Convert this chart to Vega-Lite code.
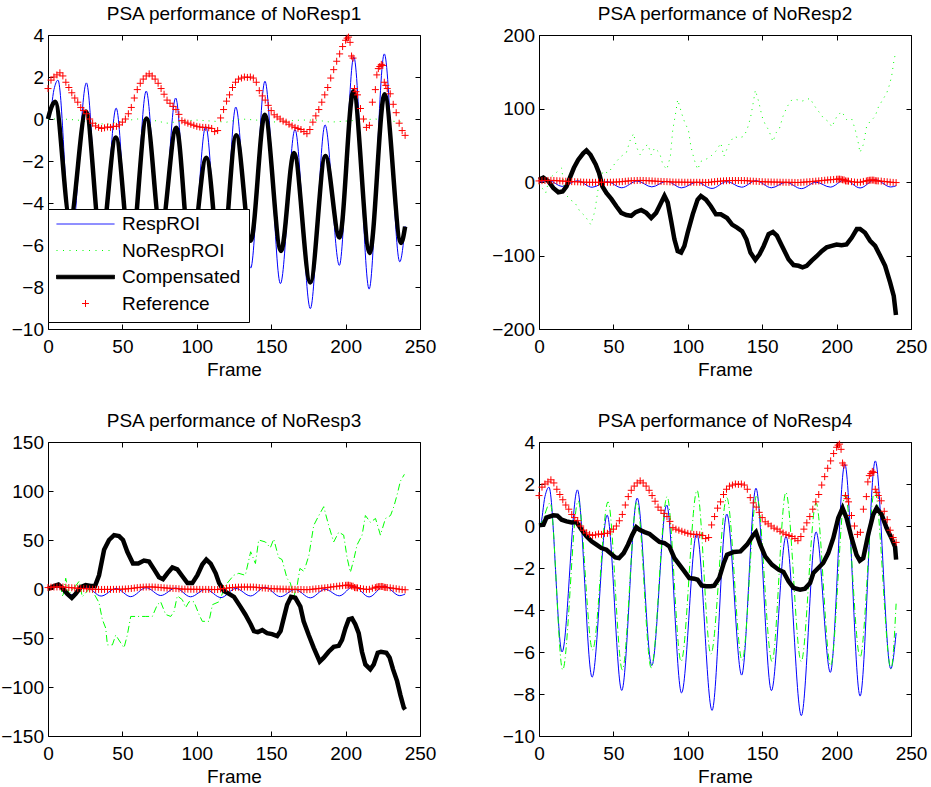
{
  "$schema": "https://vega.github.io/schema/vega-lite/v6.json",
  "padding": {"left": 0, "top": 4, "right": 5, "bottom": 5},
  "config": {
    "font": "Liberation Sans",
    "view": {"stroke": "#000000", "strokeWidth": 1},
    "axis": {
      "domain": false, "grid": false, "ticks": true, "tickSize": -5, "tickColor": "#000000", "tickWidth": 1,
      "labelFont": "Liberation Sans", "labelFontSize": 19, "labelColor": "#000000", "labelFlush": false, "labelOverlap": false,
      "titleFont": "Liberation Sans", "titleFontSize": 19, "titleFontWeight": "normal", "titleColor": "#000000"
    },
    "axisX": {"labelPadding": 13.5, "titlePadding": 3.5},
    "axisY": {"labelPadding": 9.5},
    "title": {"font": "Liberation Sans", "fontSize": 19, "fontWeight": "normal", "color": "#000000", "anchor": "middle", "offset": 2}
  },
  "datasets": {
    "resp": [
      {"f":0,"v":0},{"f":1,"v":0.05},{"f":4,"v":1.4},{"f":6.7,"v":1.85},{"f":15.5,"v":-6.0},{"f":25.8,"v":1.72},{"f":35.7,"v":-7.2},{"f":45.8,"v":0.52},{"f":55.6,"v":-7.83},{"f":66,"v":1.33},{"f":75.8,"v":-6.65},{"f":85.8,"v":1.0},{"f":95.8,"v":-7.95},{"f":106,"v":-0.35},{"f":116.3,"v":-8.78},{"f":126.2,"v":0.57},{"f":136.2,"v":-7.1},{"f":145.8,"v":1.8},{"f":156.2,"v":-7.84},{"f":166,"v":-0.5},{"f":176.3,"v":-9.03},{"f":186.2,"v":-0.28},{"f":195.8,"v":-6.97},{"f":205.5,"v":2.95},{"f":215.8,"v":-8.1},{"f":226,"v":3.1},{"f":236.4,"v":-6.8},{"f":240,"v":-5.1}
    ],
    "ref": [
      {"f":0,"v":1.45},{"f":2,"v":1.85},{"f":4,"v":2.0},{"f":6,"v":2.1},{"f":8,"v":2.2},{"f":10,"v":2.05},{"f":12,"v":1.75},{"f":14,"v":1.5},{"f":16,"v":1.25},{"f":18,"v":1.0},{"f":20,"v":0.8},{"f":22,"v":0.55},{"f":24,"v":0.4},{"f":26,"v":0.25},{"f":28,"v":0.0},{"f":30,"v":-0.2},{"f":32,"v":-0.33},{"f":34,"v":-0.4},{"f":36,"v":-0.45},{"f":38,"v":-0.42},{"f":40,"v":-0.38},{"f":42,"v":-0.4},{"f":44,"v":-0.35},{"f":46,"v":-0.35},{"f":48,"v":-0.28},{"f":50,"v":-0.15},{"f":52,"v":0.0},{"f":54,"v":0.25},{"f":56,"v":0.55},{"f":58,"v":1.0},{"f":60,"v":1.4},{"f":62,"v":1.7},{"f":64,"v":1.9},{"f":66,"v":2.05},{"f":68,"v":2.15},{"f":70,"v":2.05},{"f":72,"v":1.9},{"f":74,"v":1.7},{"f":76,"v":1.45},{"f":78,"v":1.18},{"f":80,"v":0.9},{"f":82,"v":0.75},{"f":84,"v":0.6},{"f":86,"v":0.45},{"f":88,"v":0.22},{"f":90,"v":-0.08},{"f":92,"v":-0.15},{"f":94,"v":-0.2},{"f":96,"v":-0.25},{"f":98,"v":-0.3},{"f":100,"v":-0.35},{"f":102,"v":-0.38},{"f":104,"v":-0.4},{"f":106,"v":-0.4},{"f":108,"v":-0.42},{"f":110,"v":-0.45},{"f":112,"v":-0.6},{"f":114,"v":-0.55},{"f":116,"v":0.05},{"f":118,"v":0.45},{"f":120,"v":0.85},{"f":122,"v":1.15},{"f":124,"v":1.5},{"f":126,"v":1.75},{"f":128,"v":1.9},{"f":130,"v":1.95},{"f":132,"v":2.0},{"f":134,"v":1.98},{"f":136,"v":2.0},{"f":138,"v":1.95},{"f":140,"v":1.75},{"f":142,"v":1.35},{"f":144,"v":1.1},{"f":146,"v":0.9},{"f":148,"v":0.65},{"f":150,"v":0.4},{"f":152,"v":0.2},{"f":154,"v":0.1},{"f":156,"v":0.0},{"f":158,"v":-0.1},{"f":160,"v":-0.15},{"f":162,"v":-0.25},{"f":164,"v":-0.33},{"f":166,"v":-0.4},{"f":168,"v":-0.45},{"f":170,"v":-0.5},{"f":172,"v":-0.6},{"f":174,"v":-0.7},{"f":176,"v":-0.5},{"f":178,"v":-0.15},{"f":180,"v":0.15},{"f":182,"v":0.45},{"f":184,"v":0.8},{"f":186,"v":1.15},{"f":188,"v":1.5},{"f":190,"v":1.95},{"f":192,"v":2.35},{"f":194,"v":2.75},{"f":196,"v":3.1},{"f":198,"v":3.45},{"f":200,"v":3.75},{"f":201,"v":3.85},{"f":202,"v":3.9},{"f":203,"v":3.65},{"f":204,"v":3.0},{"f":205,"v":2.9},{"f":206,"v":1.45},{"f":207,"v":1.3},{"f":208,"v":1.15},{"f":210,"v":0.5},{"f":212,"v":0.0},{"f":214,"v":-0.4},{"f":216,"v":-0.3},{"f":218,"v":0.8},{"f":220,"v":1.4},{"f":221,"v":2.1},{"f":222,"v":2.4},{"f":223,"v":2.5},{"f":224,"v":2.6},{"f":225,"v":2.55},{"f":226,"v":1.75},{"f":227,"v":1.6},{"f":228,"v":1.45},{"f":230,"v":1.2},{"f":232,"v":0.7},{"f":234,"v":0.3},{"f":236,"v":-0.2},{"f":238,"v":-0.55},{"f":240,"v":-0.78}
    ],
    "n1": [
      {"f":0,"v":0.0},{"f":10,"v":0.0},{"f":20,"v":-0.05},{"f":30,"v":-0.2},{"f":40,"v":-0.25},{"f":50,"v":-0.1},{"f":60,"v":0.0},{"f":70,"v":-0.05},{"f":80,"v":-0.2},{"f":90,"v":-0.1},{"f":100,"v":-0.05},{"f":110,"v":-0.1},{"f":120,"v":-0.15},{"f":130,"v":0.0},{"f":140,"v":-0.05},{"f":150,"v":-0.15},{"f":160,"v":-0.1},{"f":170,"v":-0.05},{"f":180,"v":-0.05},{"f":190,"v":-0.15},{"f":200,"v":-0.1},{"f":210,"v":-0.05},{"f":220,"v":0.0},{"f":230,"v":-0.1},{"f":240,"v":-0.15}
    ],
    "c1": [
      {"f":0,"v":0.0},{"f":1.5,"v":0.4},{"f":4.8,"v":0.82},{"f":14.8,"v":-4.8},{"f":25.5,"v":0.36},{"f":35.7,"v":-5.9},{"f":45.6,"v":-0.88},{"f":55.6,"v":-6.5},{"f":66.2,"v":0.02},{"f":75.8,"v":-5.4},{"f":86.2,"v":-0.42},{"f":95.8,"v":-6.6},{"f":106.4,"v":-1.84},{"f":116.3,"v":-7.3},{"f":126.5,"v":-0.77},{"f":136.2,"v":-5.8},{"f":145.7,"v":0.2},{"f":156.6,"v":-6.28},{"f":165.3,"v":-1.62},{"f":176.3,"v":-7.78},{"f":186.4,"v":-1.76},{"f":195.9,"v":-5.64},{"f":205.2,"v":1.32},{"f":216.2,"v":-6.38},{"f":226.2,"v":1.18},{"f":237.3,"v":-5.9},{"f":240,"v":-5.12}
    ],
    "n2": [
      {"f":0,"v":-2},{"f":4.5,"v":-15},{"f":7,"v":5},{"f":10,"v":10},{"f":15.2,"v":19},{"f":17.4,"v":-15},{"f":20.8,"v":-24},{"f":24.1,"v":-28},{"f":27.5,"v":-40},{"f":30.8,"v":-46},{"f":34.8,"v":-58},{"f":37.5,"v":-40},{"f":39.7,"v":-10},{"f":43.1,"v":15},{"f":46.4,"v":12},{"f":52,"v":28},{"f":55.3,"v":35},{"f":58.7,"v":40},{"f":61.3,"v":57},{"f":63.6,"v":66},{"f":65.4,"v":48},{"f":68,"v":37},{"f":71,"v":48},{"f":73.2,"v":51},{"f":75.4,"v":37},{"f":77.6,"v":46},{"f":81,"v":40},{"f":83.2,"v":24},{"f":85.9,"v":17},{"f":88.3,"v":35},{"f":89.9,"v":71},{"f":91.7,"v":92},{"f":93.2,"v":112},{"f":96.1,"v":92},{"f":98.1,"v":80},{"f":100.4,"v":71},{"f":102.1,"v":48},{"f":104.4,"v":30},{"f":106.6,"v":17},{"f":108.8,"v":28},{"f":114.4,"v":33},{"f":118.9,"v":42},{"f":122.2,"v":53},{"f":124.2,"v":35},{"f":127.6,"v":51},{"f":130.9,"v":62},{"f":134.2,"v":60},{"f":137.6,"v":62},{"f":139.8,"v":71},{"f":142.1,"v":87},{"f":143.9,"v":107},{"f":145.4,"v":125},{"f":147.7,"v":109},{"f":149.9,"v":89},{"f":152.1,"v":78},{"f":154.3,"v":71},{"f":157.2,"v":55},{"f":159.4,"v":67},{"f":161.6,"v":73},{"f":163.9,"v":89},{"f":166.6,"v":102},{"f":170,"v":112},{"f":173.3,"v":112},{"f":176.6,"v":110},{"f":180,"v":112},{"f":182.2,"v":114},{"f":184.6,"v":105},{"f":187.9,"v":96},{"f":191.2,"v":87},{"f":194.6,"v":82},{"f":196.8,"v":75},{"f":200.1,"v":89},{"f":203.4,"v":96},{"f":206.7,"v":85},{"f":210.1,"v":86},{"f":212.3,"v":73},{"f":214.6,"v":53},{"f":215.7,"v":40},{"f":218,"v":51},{"f":220.2,"v":76},{"f":222.4,"v":82},{"f":225.8,"v":89},{"f":228.1,"v":102},{"f":231,"v":112},{"f":233.7,"v":121},{"f":235.5,"v":132},{"f":237,"v":144},{"f":238.6,"v":166},{"f":239.8,"v":177}
    ],
    "c2": [
      {"f":0,"v":3},{"f":2.9,"v":6},{"f":6.3,"v":1},{"f":9.6,"v":-8},{"f":13,"v":-14},{"f":15.9,"v":-13},{"f":18.5,"v":-6},{"f":20.8,"v":6},{"f":23.4,"v":19},{"f":26.3,"v":30},{"f":29.7,"v":39},{"f":31.9,"v":43},{"f":34.6,"v":37},{"f":38.1,"v":24},{"f":40.4,"v":12},{"f":42.6,"v":-6},{"f":45.3,"v":-15},{"f":48.6,"v":-23},{"f":52,"v":-33},{"f":55.3,"v":-42},{"f":58.7,"v":-45},{"f":62,"v":-46},{"f":65,"v":-41},{"f":68.7,"v":-38},{"f":72.1,"v":-42},{"f":75.4,"v":-49},{"f":78.7,"v":-42},{"f":81.4,"v":-31},{"f":84.3,"v":-19},{"f":86.5,"v":-28},{"f":88.8,"v":-53},{"f":91,"v":-78},{"f":93.2,"v":-94},{"f":95.5,"v":-96},{"f":97.7,"v":-87},{"f":99.9,"v":-69},{"f":103.3,"v":-44},{"f":106.6,"v":-24},{"f":108.8,"v":-19},{"f":112.2,"v":-24},{"f":115.5,"v":-33},{"f":118.9,"v":-44},{"f":122.2,"v":-44},{"f":126.4,"v":-49},{"f":129.8,"v":-58},{"f":133.1,"v":-62},{"f":136.5,"v":-67},{"f":139.4,"v":-78},{"f":142.1,"v":-96},{"f":145.4,"v":-106},{"f":148.3,"v":-98},{"f":151,"v":-87},{"f":154.3,"v":-71},{"f":157.2,"v":-68},{"f":159.9,"v":-73},{"f":163.3,"v":-87},{"f":167.7,"v":-105},{"f":171.1,"v":-113},{"f":174.4,"v":-114},{"f":177.1,"v":-116},{"f":179.9,"v":-114},{"f":183.3,"v":-107},{"f":186.6,"v":-101},{"f":190,"v":-94},{"f":193.3,"v":-89},{"f":196.7,"v":-87},{"f":200,"v":-85},{"f":203.3,"v":-86},{"f":206.7,"v":-85},{"f":210.1,"v":-76},{"f":213.6,"v":-64},{"f":215.8,"v":-64},{"f":219.1,"v":-69},{"f":222.5,"v":-80},{"f":225.9,"v":-87},{"f":229.2,"v":-100},{"f":232.6,"v":-114},{"f":236,"v":-137},{"f":238.4,"v":-155},{"f":239.9,"v":-181}
    ],
    "n3": [
      {"f":0,"v":0},{"f":5,"v":3},{"f":8,"v":5},{"f":10,"v":-8},{"f":11.9,"v":11},{"f":14,"v":-5},{"f":18,"v":2},{"f":21,"v":8},{"f":23,"v":-8},{"f":27.6,"v":0},{"f":31,"v":-5},{"f":34.3,"v":-14},{"f":36.5,"v":-31},{"f":38.8,"v":-40},{"f":39.9,"v":-57},{"f":43.3,"v":-57},{"f":45.5,"v":-47},{"f":48.9,"v":-55},{"f":51.1,"v":-60},{"f":53.3,"v":-47},{"f":55.6,"v":-28},{"f":59,"v":-28},{"f":65.7,"v":-28},{"f":70.1,"v":-28},{"f":73.5,"v":-16},{"f":75.7,"v":-13},{"f":79.1,"v":-26},{"f":82.5,"v":-28},{"f":84.7,"v":-23},{"f":86.9,"v":-7},{"f":90.3,"v":-11},{"f":92.5,"v":-19},{"f":94.8,"v":-13},{"f":98.1,"v":-13},{"f":101.5,"v":-26},{"f":103.7,"v":-33},{"f":108.2,"v":-33},{"f":110.5,"v":-16},{"f":115,"v":-13},{"f":119.4,"v":4},{"f":124.8,"v":14},{"f":128.2,"v":16},{"f":132.6,"v":14},{"f":136.2,"v":38},{"f":139.4,"v":26},{"f":141.6,"v":50},{"f":146.1,"v":48},{"f":149.4,"v":42},{"f":151.7,"v":51},{"f":155,"v":32},{"f":157.3,"v":30},{"f":160.6,"v":11},{"f":162.9,"v":6},{"f":165.1,"v":-8},{"f":167.4,"v":3},{"f":169.3,"v":21},{"f":172,"v":18},{"f":175.3,"v":34},{"f":178.6,"v":65},{"f":182,"v":75},{"f":185.3,"v":84},{"f":188.6,"v":65},{"f":192,"v":48},{"f":195.4,"v":58},{"f":198.7,"v":55},{"f":201,"v":32},{"f":203.2,"v":17},{"f":205.5,"v":30},{"f":207.7,"v":45},{"f":211.1,"v":55},{"f":213.3,"v":75},{"f":216.7,"v":68},{"f":220.1,"v":72},{"f":223.4,"v":55},{"f":226.8,"v":72},{"f":230.2,"v":75},{"f":232.4,"v":84},{"f":234.6,"v":96},{"f":236.8,"v":110},{"f":239.5,"v":117}
    ],
    "c3": [
      {"f":0,"v":0},{"f":4,"v":3},{"f":7,"v":4.5},{"f":9.7,"v":1},{"f":13,"v":-5},{"f":16,"v":-9},{"f":18.6,"v":-5},{"f":22,"v":2},{"f":25.3,"v":4},{"f":28.7,"v":3},{"f":31.6,"v":3},{"f":34.3,"v":14},{"f":37.7,"v":40},{"f":41,"v":50},{"f":44.4,"v":55},{"f":47.7,"v":54},{"f":50.4,"v":50},{"f":53.3,"v":38},{"f":57.1,"v":26},{"f":60.7,"v":26},{"f":64.5,"v":29},{"f":67.9,"v":28},{"f":71.3,"v":20},{"f":74.6,"v":12},{"f":77.3,"v":10},{"f":80.2,"v":16},{"f":83.6,"v":22},{"f":86.9,"v":20},{"f":90.3,"v":13},{"f":93.7,"v":6},{"f":97,"v":6},{"f":100.4,"v":14},{"f":103.7,"v":25},{"f":106.4,"v":30},{"f":109.3,"v":26},{"f":112.7,"v":16},{"f":115,"v":6},{"f":118.3,"v":-2},{"f":121.7,"v":-5},{"f":125,"v":-8},{"f":129.3,"v":-18},{"f":132.6,"v":-26},{"f":136.2,"v":-36},{"f":138.4,"v":-43},{"f":141,"v":-44},{"f":144,"v":-42},{"f":147.2,"v":-45},{"f":150.6,"v":-46},{"f":154,"v":-48},{"f":156.3,"v":-43},{"f":158.4,"v":-30},{"f":160.7,"v":-16},{"f":163.3,"v":-8},{"f":166.2,"v":-9},{"f":169.6,"v":-18},{"f":171.8,"v":-33},{"f":175.2,"v":-47},{"f":178.6,"v":-60},{"f":182.6,"v":-74},{"f":185.3,"v":-70},{"f":188.6,"v":-64},{"f":192,"v":-59},{"f":195.4,"v":-58},{"f":197.6,"v":-52},{"f":199.9,"v":-40},{"f":202.1,"v":-31},{"f":204.3,"v":-30},{"f":206.5,"v":-36},{"f":208.8,"v":-45},{"f":211,"v":-64},{"f":213.3,"v":-77},{"f":216.6,"v":-82},{"f":218.9,"v":-77},{"f":221.6,"v":-65},{"f":223.8,"v":-64},{"f":227.4,"v":-65},{"f":229.6,"v":-70},{"f":231.9,"v":-82},{"f":234.6,"v":-94},{"f":236.8,"v":-108},{"f":239.1,"v":-121},{"f":240,"v":-123}
    ],
    "n4": [
      {"f":0,"v":0.0},{"f":2,"v":0.2},{"f":7.5,"v":1.1},{"f":15.9,"v":-6.85},{"f":26.3,"v":1.2},{"f":36,"v":-5.9},{"f":46.4,"v":1.15},{"f":56,"v":-6.85},{"f":65.8,"v":1.15},{"f":75.4,"v":-6.75},{"f":86.1,"v":1.4},{"f":95.5,"v":-6.45},{"f":106.2,"v":1.7},{"f":115.5,"v":-6.1},{"f":126.2,"v":1.35},{"f":136.5,"v":-6.4},{"f":146.3,"v":1.45},{"f":156.6,"v":-6.45},{"f":165.9,"v":1.6},{"f":176.2,"v":-6.45},{"f":186.2,"v":1.1},{"f":196,"v":-6.65},{"f":205.8,"v":1.5},{"f":215.8,"v":-6.25},{"f":225.6,"v":1.7},{"f":236.6,"v":-6.8},{"f":240,"v":-3.7}
    ],
    "c4": [
      {"f":0,"v":0.03},{"f":3,"v":0.06},{"f":5,"v":0.4},{"f":9.6,"v":0.51},{"f":12.3,"v":0.49},{"f":15.2,"v":0.3},{"f":18.5,"v":0.22},{"f":21.9,"v":0.17},{"f":25.2,"v":0.19},{"f":28.6,"v":-0.18},{"f":31.9,"v":-0.49},{"f":35.3,"v":-0.73},{"f":38.6,"v":-0.89},{"f":41.9,"v":-1.05},{"f":45.3,"v":-1.13},{"f":47.9,"v":-1.29},{"f":51.3,"v":-1.5},{"f":53.8,"v":-1.53},{"f":56.9,"v":-1.29},{"f":59.8,"v":-0.89},{"f":62.7,"v":-0.42},{"f":65.4,"v":-0.06},{"f":67.6,"v":-0.18},{"f":71,"v":-0.29},{"f":74.3,"v":-0.38},{"f":77.6,"v":-0.57},{"f":81,"v":-0.76},{"f":84.3,"v":-0.81},{"f":87.6,"v":-0.97},{"f":91,"v":-1.53},{"f":94.3,"v":-1.84},{"f":97.7,"v":-2.16},{"f":101,"v":-2.48},{"f":104.4,"v":-2.51},{"f":106.6,"v":-2.56},{"f":109.3,"v":-2.83},{"f":112.2,"v":-2.87},{"f":115.5,"v":-2.87},{"f":117.7,"v":-2.84},{"f":121.1,"v":-2.48},{"f":124.2,"v":-1.76},{"f":126.4,"v":-1.37},{"f":130.9,"v":-1.24},{"f":135.4,"v":-1.21},{"f":139.8,"v":-0.89},{"f":144.3,"v":-0.41},{"f":145.8,"v":-0.29},{"f":148.7,"v":-0.89},{"f":152,"v":-1.45},{"f":156.5,"v":-1.84},{"f":161,"v":-2.08},{"f":164.3,"v":-2.19},{"f":167.7,"v":-2.63},{"f":171.1,"v":-2.95},{"f":175.5,"v":-3.03},{"f":178.8,"v":-2.98},{"f":182.2,"v":-2.71},{"f":184.4,"v":-2.24},{"f":187.7,"v":-2.0},{"f":191,"v":-1.76},{"f":194.4,"v":-1.29},{"f":197.8,"v":-0.57},{"f":201.1,"v":0.38},{"f":204,"v":0.85},{"f":206.7,"v":0.38},{"f":210.1,"v":-0.57},{"f":213.4,"v":-1.37},{"f":215.6,"v":-1.65},{"f":217.9,"v":-1.53},{"f":221.2,"v":-0.42},{"f":224.6,"v":0.54},{"f":226.9,"v":0.85},{"f":230.3,"v":0.54},{"f":233.6,"v":-0.1},{"f":237,"v":-0.6},{"f":239.3,"v":-1.0},{"f":240,"v":-1.6}
    ]
  },
  "columns": 2,
  "spacing": {"row": 113, "column": 119},
  "bounds": "flush",
  "resolve": {"scale": {"color": "independent"}, "legend": {"color": "independent"}},
  "concat": [
    {
      "title": "PSA performance of NoResp1",
      "width": 372, "height": 294,
      "resolve": {"axis": {"x": "independent", "y": "independent"}},
      "layer": [
        {"data": {"name": "resp"},
         "mark": {"type": "line", "strokeWidth": 1, "interpolate": "monotone"},
         "encoding": {
           "x": {"field": "f", "type": "quantitative", "scale": {"domain": [0, 250], "nice": false}, "axis": {"values": [0, 50, 100, 150, 200, 250], "title": "Frame"}},
           "y": {"field": "v", "type": "quantitative", "scale": {"domain": [-10, 4], "nice": false}, "axis": {"values": [-10, -8, -6, -4, -2, 0, 2, 4], "title": null}},
           "color": {"datum": "RespROI",
             "scale": {"domain": ["RespROI", "NoRespROI", "Compensated", "Reference"], "range": ["#0000ff", "#00ff00", "#000000", "#ff0000"]},
             "legend": {
               "title": null, "orient": "none", "legendX": 0, "legendY": 174, "direction": "vertical",
               "symbolType": "stroke", "symbolSize": 3364, "symbolStrokeWidth": 1, "clipHeight": 14, "rowPadding": 7.5,
               "symbolOffset": 0, "labelOffset": 7, "labelFont": "Liberation Sans", "labelFontSize": 19, "labelColor": "#000000",
               "padding": 8, "strokeColor": "#000000", "fillColor": "#ffffff", "cornerRadius": 0,
               "encoding": {
                 "symbols": {
                   "shape": {
                     "condition": [
                       {"test": "datum.value === 'Compensated'", "value": "M-1,-0.06H1V0.06H-1Z"},
                       {"test": "datum.value === 'Reference'", "value": "M-0.12,0H0.12M0,-0.12V0.12"}
                     ],
                     "value": "stroke"
                   },
                   "fill": {"condition": {"test": "datum.value === 'Compensated'", "value": "#000000"}, "value": "transparent"},
                   "strokeDash": {"condition": {"test": "datum.value === 'NoRespROI'", "value": [1, 5.5]}, "value": [1, 0]}
                 }
               }
             }}
         }},
        {"data": {"name": "n1"},
         "mark": {"type": "line", "strokeWidth": 1, "strokeDash": [1, 5]},
         "encoding": {
           "x": {"field": "f", "type": "quantitative", "scale": {"domain": [0, 250], "nice": false}, "axis": null},
           "y": {"field": "v", "type": "quantitative", "scale": {"domain": [-10, 4], "nice": false}, "axis": null},
           "color": {"datum": "NoRespROI"}
         }},
        {"data": {"name": "c1"},
         "mark": {"type": "line", "strokeWidth": 4.5, "interpolate": "monotone"},
         "encoding": {
           "x": {"field": "f", "type": "quantitative", "scale": {"domain": [0, 250], "nice": false}, "axis": null},
           "y": {"field": "v", "type": "quantitative", "scale": {"domain": [-10, 4], "nice": false}, "axis": null},
           "color": {"datum": "Compensated"}
         }},
        {"data": {"name": "ref"},
         "mark": {"type": "point", "shape": "M-1,0H1M0,-1V1", "filled": false, "size": 49, "strokeWidth": 1, "opacity": 1},
         "encoding": {
           "x": {"field": "f", "type": "quantitative", "scale": {"domain": [0, 250], "nice": false}, "axis": {"orient": "top", "labels": false, "title": null, "values": [0, 50, 100, 150, 200, 250]}},
           "y": {"field": "v", "type": "quantitative", "scale": {"domain": [-10, 4], "nice": false}, "axis": {"orient": "right", "labels": false, "title": null, "values": [-10, -8, -6, -4, -2, 0, 2, 4]}},
           "color": {"datum": "Reference"}
         }}
      ]
    },
    {
      "title": "PSA performance of NoResp2",
      "width": 372, "height": 294,
      "resolve": {"axis": {"x": "independent", "y": "independent"}},
      "layer": [
        {"data": {"name": "resp"},
         "mark": {"type": "line", "color": "#0000ff", "strokeWidth": 1, "interpolate": "monotone"},
         "encoding": {
           "x": {"field": "f", "type": "quantitative", "scale": {"domain": [0, 250], "nice": false}, "axis": {"values": [0, 50, 100, 150, 200, 250], "title": "Frame"}},
           "y": {"field": "v", "type": "quantitative", "scale": {"domain": [-200, 200], "nice": false}, "axis": {"values": [-200, -100, 0, 100, 200], "title": null}}
         }},
        {"data": {"name": "n2"},
         "mark": {"type": "line", "color": "#00ff00", "strokeWidth": 1, "strokeDash": [1, 5]},
         "encoding": {
           "x": {"field": "f", "type": "quantitative", "scale": {"domain": [0, 250], "nice": false}, "axis": null},
           "y": {"field": "v", "type": "quantitative", "scale": {"domain": [-200, 200], "nice": false}, "axis": null}
         }},
        {"data": {"name": "c2"},
         "mark": {"type": "line", "color": "#000000", "strokeWidth": 4.5},
         "encoding": {
           "x": {"field": "f", "type": "quantitative", "scale": {"domain": [0, 250], "nice": false}, "axis": null},
           "y": {"field": "v", "type": "quantitative", "scale": {"domain": [-200, 200], "nice": false}, "axis": null}
         }},
        {"data": {"name": "ref"},
         "mark": {"type": "point", "shape": "M-1,0H1M0,-1V1", "filled": false, "size": 49, "strokeWidth": 1, "color": "#ff0000", "opacity": 1},
         "encoding": {
           "x": {"field": "f", "type": "quantitative", "scale": {"domain": [0, 250], "nice": false}, "axis": {"orient": "top", "labels": false, "title": null, "values": [0, 50, 100, 150, 200, 250]}},
           "y": {"field": "v", "type": "quantitative", "scale": {"domain": [-200, 200], "nice": false}, "axis": {"orient": "right", "labels": false, "title": null, "values": [-200, -100, 0, 100, 200]}}
         }}
      ]
    },
    {
      "title": "PSA performance of NoResp3",
      "width": 372, "height": 294,
      "resolve": {"axis": {"x": "independent", "y": "independent"}},
      "layer": [
        {"data": {"name": "resp"},
         "mark": {"type": "line", "color": "#0000ff", "strokeWidth": 1, "interpolate": "monotone"},
         "encoding": {
           "x": {"field": "f", "type": "quantitative", "scale": {"domain": [0, 250], "nice": false}, "axis": {"values": [0, 50, 100, 150, 200, 250], "title": "Frame"}},
           "y": {"field": "v", "type": "quantitative", "scale": {"domain": [-150, 150], "nice": false}, "axis": {"values": [-150, -100, -50, 0, 50, 100, 150], "title": null}}
         }},
        {"data": {"name": "n3"},
         "mark": {"type": "line", "color": "#00ff00", "strokeWidth": 1, "strokeDash": [7, 3, 1, 3]},
         "encoding": {
           "x": {"field": "f", "type": "quantitative", "scale": {"domain": [0, 250], "nice": false}, "axis": null},
           "y": {"field": "v", "type": "quantitative", "scale": {"domain": [-150, 150], "nice": false}, "axis": null}
         }},
        {"data": {"name": "c3"},
         "mark": {"type": "line", "color": "#000000", "strokeWidth": 4.5},
         "encoding": {
           "x": {"field": "f", "type": "quantitative", "scale": {"domain": [0, 250], "nice": false}, "axis": null},
           "y": {"field": "v", "type": "quantitative", "scale": {"domain": [-150, 150], "nice": false}, "axis": null}
         }},
        {"data": {"name": "ref"},
         "mark": {"type": "point", "shape": "M-1,0H1M0,-1V1", "filled": false, "size": 49, "strokeWidth": 1, "color": "#ff0000", "opacity": 1},
         "encoding": {
           "x": {"field": "f", "type": "quantitative", "scale": {"domain": [0, 250], "nice": false}, "axis": {"orient": "top", "labels": false, "title": null, "values": [0, 50, 100, 150, 200, 250]}},
           "y": {"field": "v", "type": "quantitative", "scale": {"domain": [-150, 150], "nice": false}, "axis": {"orient": "right", "labels": false, "title": null, "values": [-150, -100, -50, 0, 50, 100, 150]}}
         }}
      ]
    },
    {
      "title": "PSA performance of NoResp4",
      "width": 372, "height": 294,
      "resolve": {"axis": {"x": "independent", "y": "independent"}},
      "layer": [
        {"data": {"name": "resp"},
         "mark": {"type": "line", "color": "#0000ff", "strokeWidth": 1, "interpolate": "monotone"},
         "encoding": {
           "x": {"field": "f", "type": "quantitative", "scale": {"domain": [0, 250], "nice": false}, "axis": {"values": [0, 50, 100, 150, 200, 250], "title": "Frame"}},
           "y": {"field": "v", "type": "quantitative", "scale": {"domain": [-10, 4], "nice": false}, "axis": {"values": [-10, -8, -6, -4, -2, 0, 2, 4], "title": null}}
         }},
        {"data": {"name": "n4"},
         "mark": {"type": "line", "color": "#00ff00", "strokeWidth": 1, "strokeDash": [7, 3, 1, 3], "interpolate": "monotone"},
         "encoding": {
           "x": {"field": "f", "type": "quantitative", "scale": {"domain": [0, 250], "nice": false}, "axis": null},
           "y": {"field": "v", "type": "quantitative", "scale": {"domain": [-10, 4], "nice": false}, "axis": null}
         }},
        {"data": {"name": "c4"},
         "mark": {"type": "line", "color": "#000000", "strokeWidth": 4.5},
         "encoding": {
           "x": {"field": "f", "type": "quantitative", "scale": {"domain": [0, 250], "nice": false}, "axis": null},
           "y": {"field": "v", "type": "quantitative", "scale": {"domain": [-10, 4], "nice": false}, "axis": null}
         }},
        {"data": {"name": "ref"},
         "mark": {"type": "point", "shape": "M-1,0H1M0,-1V1", "filled": false, "size": 49, "strokeWidth": 1, "color": "#ff0000", "opacity": 1},
         "encoding": {
           "x": {"field": "f", "type": "quantitative", "scale": {"domain": [0, 250], "nice": false}, "axis": {"orient": "top", "labels": false, "title": null, "values": [0, 50, 100, 150, 200, 250]}},
           "y": {"field": "v", "type": "quantitative", "scale": {"domain": [-10, 4], "nice": false}, "axis": {"orient": "right", "labels": false, "title": null, "values": [-10, -8, -6, -4, -2, 0, 2, 4]}}
         }}
      ]
    }
  ]
}
